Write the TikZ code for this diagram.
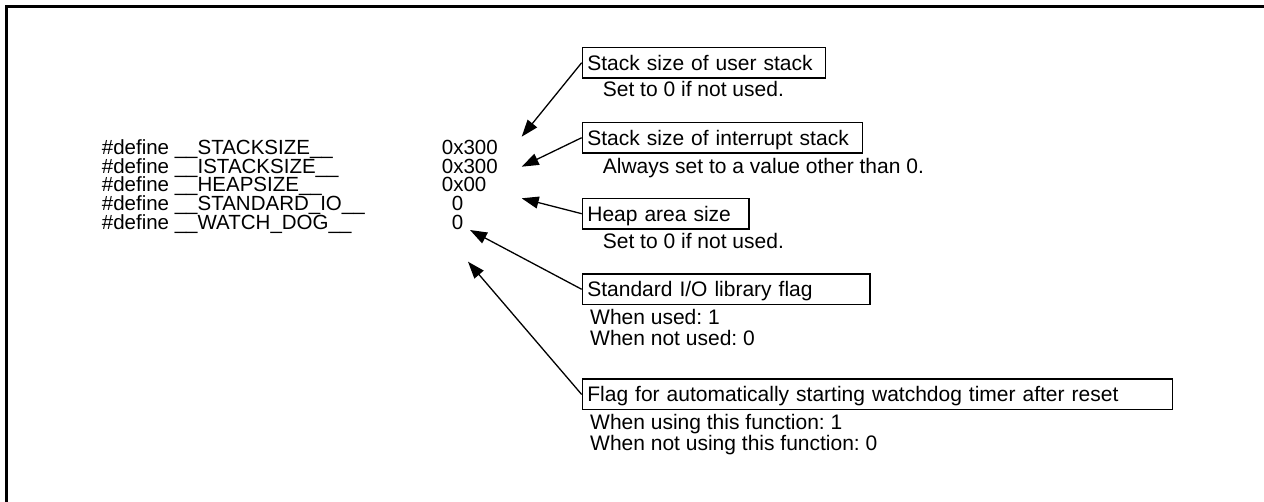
\documentclass[tikz,border=0pt]{standalone}
\usepackage{fontspec}
\setmainfont{Liberation Sans}
\usetikzlibrary{arrows.meta}
\frenchspacing
\begin{document}
\begin{tikzpicture}[x=1pt,y=-1pt,
  deftext/.style={anchor=base west, inner sep=0pt, font=\fontsize{20.5}{20.5}\selectfont},
  box/.style={draw, line width=1.3pt, anchor=north west, inner xsep=5pt, inner ysep=0pt,
    align=left, minimum height=30.7pt, text height=15pt, text depth=0pt,
    font=\fontsize{21}{21}\selectfont},
  note/.style={anchor=base west, inner sep=0pt, font=\fontsize{21}{21}\selectfont},
  pointer/.style={line width=1.3pt, -{Triangle[length=17pt,width=12pt]}},
  frame/.style={line width=3pt}]
\useasboundingbox (0,0) rectangle (1264,502);
\coordinate (fa) at (6.5,502);
\coordinate (fb) at (6.5,6.5);
\coordinate (fc) at (1264,6.5);
\draw[frame] (fa) -- (fb) -- (fc);

% define lines
\node[deftext] (d1) at (101.7,154.5) {\#define \_\_STACKSIZE\_\_};
\node[deftext] (d2) at (101.7,173.2) {\#define \_\_ISTACKSIZE\_\_};
\node[deftext] (d3) at (101.7,191.9) {\#define \_\_HEAPSIZE\_\_};
\node[deftext] (d4) at (101.7,210.6) {\#define \_\_STANDARD\_IO\_\_};
\node[deftext] (d5) at (101.7,229.3) {\#define \_\_WATCH\_DOG\_\_};
\node[deftext] (v1) at (441.7,154.5) {0x300};
\node[deftext] (v2) at (441.7,173.2) {0x300};
\node[deftext] (v3) at (441.7,191.9) {0x00};
\node[deftext] (v4) at (451.7,210.6) {0};
\node[deftext] (v5) at (451.7,229.3) {0};

% boxes
\node[box, text width=233.3pt] (b1) at (581.7,46.7) {Stack size of user stack};
\node[box, text width=270.3pt] (b2) at (581.7,121.7) {Stack size of interrupt stack};
\node[box, text width=156.6pt] (b3) at (581.7,197.7) {Heap area size};
\node[box, text width=277.6pt] (b4) at (581.7,273.3) {Standard I/O library flag};
\node[box, text width=580pt] (b5) at (581.7,378.5) {Flag for automatically starting watchdog timer after reset};

% notes
\node[note] (n1) at (602.7,96.7) {Set to 0 if not used.};
\node[note] (n2) at (602.7,173.3) {Always set to a value other than 0.};
\node[note] (n3) at (602.7,248.5) {Set to 0 if not used.};
\node[note] (n4a) at (590,325) {When used: 1};
\node[note] (n4b) at (590,345.5) {When not used: 0};
\node[note] (n5a) at (590,430) {When using this function: 1};
\node[note] (n5b) at (590,450.5) {When not using this function: 0};

% arrow tips
\coordinate (t1) at (521.7,136.7);
\coordinate (t2) at (521.7,166.7);
\coordinate (t3) at (521.7,198.3);
\coordinate (t4) at (470,230);
\coordinate (t5) at (468,261.7);

\draw[pointer] (b1.west) -- (t1);
\draw[pointer] (b2.west) -- (t2);
\draw[pointer] (b3.west) -- (t3);
\draw[pointer] (b4.west) -- (t4);
\draw[pointer] (b5.west) -- (t5);
\end{tikzpicture}
\end{document}
